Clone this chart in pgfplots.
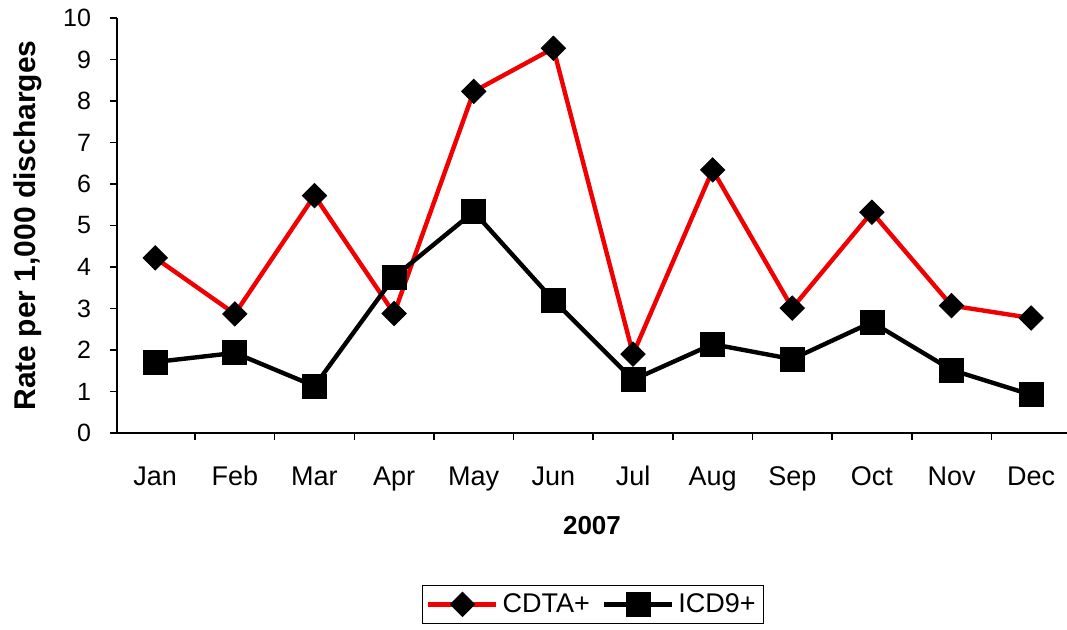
\documentclass[border=0pt]{standalone}
\usepackage{fontspec}
\setmainfont{Liberation Sans}
\usepackage{pgfplots}
\pgfplotsset{compat=1.18}
\definecolor{cdred}{RGB}{240,0,0}
\begin{document}
\begin{tikzpicture}
\begin{axis}[
  scale only axis, width=475pt, height=207.5pt,
  xmin=-0.48, xmax=11.45, ymin=0, ymax=10,
  axis lines*=left,
  axis line style={line width=0.8pt},
  every tick/.style={black, line width=0.8pt},
  tick align=outside,
  major tick length=3.5pt, minor tick length=3.5pt,
  xtick={0,...,11},
  xticklabels={Jan,Feb,Mar,Apr,May,Jun,Jul,Aug,Sep,Oct,Nov,Dec},
  major x tick style={draw=none},
  minor xtick={0.5,1.5,...,10.5},
  ytick={0,...,10},
  /pgf/number format/assume math mode=true,
  yticklabel style={font=\fontsize{12.5}{14}\selectfont, xshift=-6pt},
  xticklabel style={font=\fontsize{13.5}{15}\selectfont, yshift=-9pt, text height=10pt, text depth=3pt},
  ylabel={\bfseries Rate per 1,000 discharges},
  ylabel style={font=\fontsize{15}{18}\selectfont, yshift=4pt},
  xlabel={\bfseries 2007},
  xlabel style={font=\fontsize{13}{15}\selectfont, yshift=-6pt},
  legend columns=2,
  legend style={at={(0.501,-0.366)}, anchor=north, draw=black, line width=0.6pt,
    font=\fontsize{13.5}{16}\selectfont, inner sep=2pt,
    /tikz/every even column/.append style={column sep=4pt}},
  legend image code/.code={\draw[mark repeat=2,mark phase=2] plot coordinates {(0pt,0pt)(17pt,0pt)(34pt,0pt)};},
  clip=false,
]
\coordinate (bl) at (rel axis cs:0,0);
\coordinate (tr) at (rel axis cs:1,1);
\addplot[cdred, line width=2.2pt, mark=square*, mark size=4.3pt,
  mark options={rotate=45, fill=black, draw=black, line width=0.4pt}]
  coordinates {(0,4.22) (1,2.87) (2,5.72) (3,2.88) (4,8.23) (5,9.27) (6,1.9) (7,6.34) (8,3.01) (9,5.32) (10,3.07) (11,2.77)};
\addlegendentry{CDTA+}
\addplot[black, line width=2.2pt, mark=square*, mark size=6pt,
  mark options={fill=black, draw=black, line width=0.4pt}]
  coordinates {(0,1.71) (1,1.93) (2,1.13) (3,3.76) (4,5.33) (5,3.2) (6,1.28) (7,2.14) (8,1.78) (9,2.67) (10,1.52) (11,0.92)};
\addlegendentry{ICD9+}
\end{axis}
\pgfresetboundingbox
\path[use as bounding box] ([xshift=-58.5pt,yshift=-98.5pt]bl) rectangle ([yshift=9pt]tr);
\end{tikzpicture}
\end{document}
